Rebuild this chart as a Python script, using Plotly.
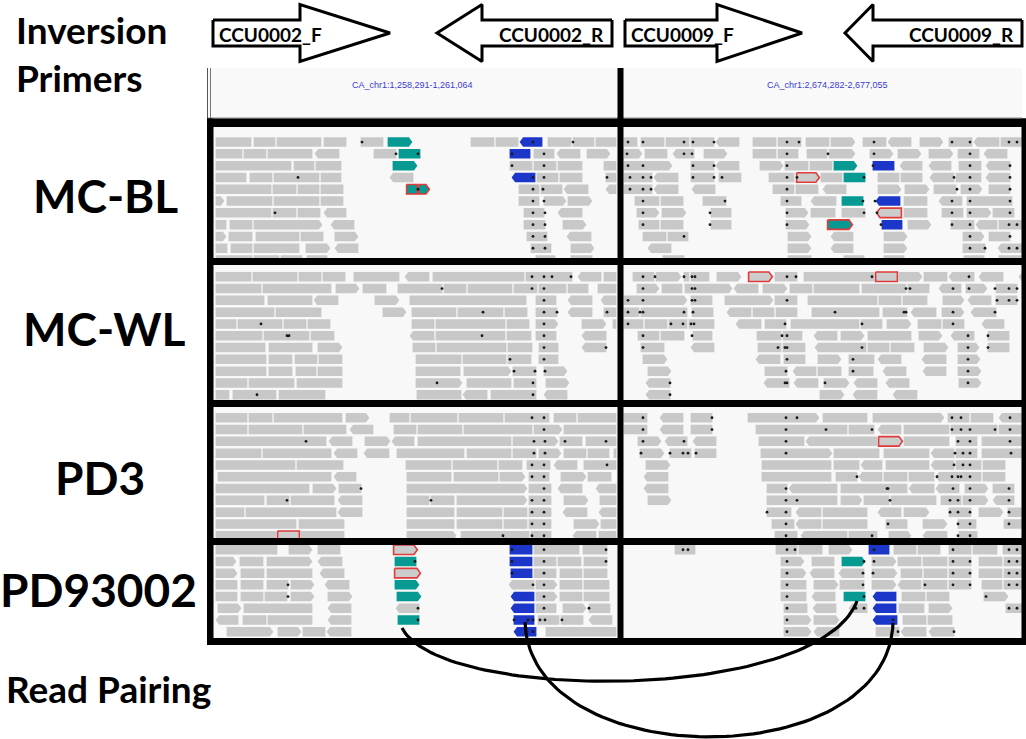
import plotly.graph_objects as go
import numpy as np

W, H = 1026, 739

# ---------------- data ----------------
panel_names = ["MC-BL", "MC-WL", "PD3", "PD93002"]
panel_label_x = [105, 104, 100, 98]
panel_label_y = [195, 328, 477, 589]
row_top = [137.3, 272.0, 413.0, 545.0]
row_step = [11.8, 11.8, 11.8, 11.7]

regions = ["CA_chr1:1,258,291-1,261,064", "CA_chr1:2,674,282-2,677,055"]
region_x = [412, 827]

primer_names = ["CCU0002_F", "CCU0002_R", "CCU0009_F", "CCU0009_R"]
primer_tail = [213, 612, 625, 1022]
primer_base = [300, 482, 717, 873]
primer_tip = [390, 437, 802, 845]

# reads: (start, end, strand, kind)  kind: g=grey, T=teal, B=blue, R=red-outlined grey, TR=red-outlined teal
mcbl_left = [
    [(215,252,0),(253,276,0),(276,322,0),(323,347,0),(360,384,0),(387,413,1,'T'),(470,495,0),(495,519,0),(519,543,-1,'B'),(547,572,0),(572,595,0),(595,617,0)],
    [(215,243,0),(243,267,0),(267,313,0),(314,340,-1),(373,397,0),(398,421,0,'T'),(509,531,0,'B'),(533,555,0),(556,581,-1),(586,611,1)],
    [(215,292,0),(293,315,0),(315,342,0),(392,418,1,'T'),(509,533,0),(533,557,0),(557,583,0),(603,617,0)],
    [(215,247,0),(249,273,0),(273,320,0),(320,342,0),(389,414,-1),(511,536,-1,'B'),(536,559,0),(559,583,0),(605,617,0)],
    [(215,272,0),(272,297,0),(297,320,0),(320,344,0),(406,418,0,'TR'),(418,430,1,'TR'),(518,540,0),(540,563,0),(563,589,-1),(605,617,-1)],
    [(215,225,1),(226,273,0),(273,320,0),(320,344,0),(518,540,0),(543,567,1),(567,593,1)],
    [(215,272,0),(272,297,0),(297,321,0),(323,347,-1),(523,545,0),(557,583,-1)],
    [(215,227,0),(229,253,0),(253,323,1),(330,355,-1),(523,546,0),(562,587,1)],
    [(215,227,1),(228,253,0),(255,300,0),(300,324,0),(334,359,1),(526,548,0),(566,592,-1)],
    [(215,228,0),(230,253,0),(253,300,0),(305,331,1),(334,359,-1),(530,552,0),(570,595,1)],
    [(215,253,0),(253,280,0),(280,303,0),(306,328,0),(535,556,0),(570,593,0)],
]
mcbl_right = [
    [(623,638,0),(640,665,0),(665,690,0),(690,715,0),(715,740,-1),(752,777,0),(777,802,0),(805,830,0),(830,856,1),(862,887,0),(887,912,-1),(919,944,1),(948,973,0),(973,1000,-1),(1000,1023,0)],
    [(623,643,1),(644,668,0),(672,695,-1),(703,728,1),(752,777,0),(777,799,0),(806,828,0),(828,856,1),(869,894,1),(897,922,1),(928,954,1),(957,980,0),(983,1008,-1)],
    [(623,673,1),(690,715,0),(715,740,-1),(759,784,1),(784,809,0),(809,833,0),(833,858,1,'T'),(872,895,0,'B'),(899,923,-1),(928,952,-1),(958,982,0),(985,1011,-1)],
    [(623,653,0),(653,679,-1),(690,715,0),(718,742,0),(768,795,0),(796,820,1,'R'),(820,843,0),(843,866,0,'T'),(877,900,0),(900,923,0),(929,955,-1),(955,982,0),(985,1011,-1)],
    [(623,653,0),(653,679,-1),(691,716,-1),(772,795,0),(795,819,0),(822,847,-1),(877,902,1),(904,930,1),(933,957,0),(960,983,1),(988,1011,0)],
    [(634,660,0),(660,684,0),(702,727,0),(780,802,0),(810,837,-1),(841,864,0,'T'),(875,901,-1,'B'),(903,928,0),(938,963,-1),(966,1013,0)],
    [(636,660,1),(661,687,1),(710,732,0),(785,809,1),(810,836,0),(841,866,0),(876,902,-1,'R'),(903,928,0),(941,964,0),(966,992,1),(992,1015,0)],
    [(638,660,0),(660,684,0),(710,732,0),(785,810,1),(827,853,1,'TR'),(881,903,0,'B'),(907,932,1),(950,975,0),(975,998,-1),(998,1023,0)],
    [(642,667,0),(667,689,0),(787,812,1),(830,854,-1),(883,908,1),(962,985,1),(988,1011,0)],
    [(647,672,-1),(787,812,1),(830,854,-1),(883,908,1),(962,986,0),(997,1023,-1)],
    [(662,685,0),(787,812,0),(843,865,0),(883,905,0),(963,985,0),(998,1022,0)],
]
mcwl_left = [
    [(215,252,0),(252,298,0),(298,322,0),(322,346,0),(353,400,0),(404,430,-1),(432,525,0),(525,573,0),(577,602,-1),(603,617,0)],
    [(215,262,0),(262,332,0),(335,360,1),(362,387,0),(397,443,0),(443,467,0),(467,513,0),(513,538,0),(538,567,0),(567,589,0),(597,617,0)],
    [(215,265,0),(267,313,0),(313,339,-1),(374,400,1),(409,527,0),(535,557,0),(567,593,-1),(600,617,-1)],
    [(215,275,0),(275,322,0),(382,407,1),(411,457,0),(457,504,0),(504,528,0),(535,558,0),(567,593,-1),(603,617,0)],
    [(215,237,0),(237,283,0),(283,307,0),(307,331,0),(411,435,0),(435,506,0),(506,530,0),(535,559,1),(581,607,1),(612,617,0)],
    [(215,263,0),(263,310,0),(310,335,0),(409,435,-1),(435,506,0),(506,532,0),(535,557,0),(581,607,-1)],
    [(215,266,0),(268,313,0),(317,343,1),(412,436,0),(436,507,0),(507,533,0),(538,559,0),(581,607,-1)],
    [(215,267,0),(268,293,0),(294,318,0),(318,343,0),(415,462,0),(462,507,0),(507,532,0),(538,559,0)],
    [(215,267,0),(268,293,0),(295,317,0),(317,343,0),(415,461,0),(463,512,1),(512,537,0),(543,568,1)],
    [(215,248,0),(248,295,0),(296,343,0),(415,463,1),(466,512,0),(513,537,0),(545,570,1)],
    [(215,230,0),(232,277,0),(278,326,0),(416,462,0),(462,488,-1),(490,537,0),(543,568,-1)],
]
mcwl_right = [
    [(632,655,0),(655,682,1),(683,690,0),(690,710,0),(716,742,1),(748,773,1,'R'),(774,798,0),(803,875,0),(875,898,0,'R'),(898,923,1),(923,948,0),(948,975,-1),(978,1004,-1),(1018,1025,-1)],
    [(636,660,1),(661,683,0),(684,733,1),(733,759,-1),(762,788,1),(789,813,0),(813,860,0),(861,907,0),(907,930,0),(938,962,-1),(965,988,1),(995,1018,0)],
    [(623,688,1),(690,713,0),(724,774,1),(774,798,0),(807,878,0),(878,902,0),(902,928,0),(942,965,1),(967,992,-1),(995,1018,0)],
    [(623,640,0),(640,688,0),(691,714,0),(726,752,-1),(752,775,0),(775,798,0),(811,880,0),(882,908,0),(910,937,-1),(941,965,1),(970,997,-1)],
    [(623,644,0),(644,668,0),(668,688,0),(688,715,0),(735,762,-1),(764,787,0),(790,860,0),(860,883,0),(886,912,1),(917,942,0),(942,965,0),(981,1005,-1)],
    [(637,660,0),(660,685,0),(692,713,0),(756,782,0),(782,803,0),(813,838,-1),(840,865,1),(867,912,0),(918,943,1),(950,975,-1),(987,1010,0)],
    [(640,665,0),(690,715,-1),(757,782,0),(782,806,0),(814,867,-1),(867,890,0),(890,915,0),(923,949,1),(957,980,1),(987,1010,0)],
    [(642,668,1),(755,781,-1),(783,806,0),(817,842,1),(848,875,0),(877,902,-1),(921,947,-1),(957,981,1)],
    [(647,672,1),(764,788,0),(792,817,-1),(817,842,0),(848,874,0),(882,907,-1),(922,947,-1),(957,982,1)],
    [(645,671,-1),(763,790,-1),(793,819,-1),(823,850,1),(853,878,-1),(885,910,-1),(958,982,1)],
    [(645,671,-1),(819,845,1),(852,878,-1),(892,918,-1)],
]
pd3_left = [
    [(215,248,0),(248,273,0),(273,343,0),(345,370,1),(389,410,0),(410,458,0),(458,504,0),(504,550,0),(553,577,0),(577,617,0)],
    [(215,248,0),(248,303,0),(303,347,0),(349,374,-1),(393,417,0),(417,463,0),(463,533,0),(533,563,1),(563,617,0)],
    [(215,327,0),(328,353,-1),(364,391,1),(391,415,-1),(417,512,0),(512,559,1),(559,583,0),(585,617,0)],
    [(215,262,0),(262,332,0),(333,358,-1),(363,390,-1),(396,465,0),(466,512,0),(512,537,0),(538,562,1),(563,587,0),(587,610,0),(613,617,0)],
    [(215,296,0),(296,344,0),(405,452,0),(452,498,0),(498,523,0),(526,551,0),(553,578,-1),(583,617,0)],
    [(217,332,0),(333,357,-1),(406,452,0),(453,499,0),(499,526,1),(528,550,0),(560,587,1),(587,612,0)],
    [(215,310,0),(312,337,1),(338,362,0),(406,528,1),(528,552,0),(557,583,-1),(595,617,-1)],
    [(215,265,0),(266,290,0),(290,335,0),(337,363,-1),(406,430,0),(430,455,0),(456,528,1),(528,552,0),(563,589,1),(599,617,0)],
    [(215,245,0),(245,337,0),(337,363,-1),(406,455,0),(456,503,0),(503,528,0),(528,552,0),(562,588,-1),(598,617,-1)],
    [(215,297,0),(298,345,0),(406,455,0),(456,503,0),(503,528,0),(528,552,0),(573,600,1),(600,617,0)],
    [(215,277,0),(277,300,0,'R'),(300,345,0),(406,457,1),(460,530,0),(530,552,0),(572,597,-1),(598,617,0)],
]
pd3_right = [
    [(623,648,0),(659,684,-1),(690,713,0),(747,820,1),(822,868,0),(872,945,1),(947,970,0),(970,994,0),(998,1023,-1)],
    [(623,648,0),(659,684,-1),(690,713,0),(755,848,0),(848,875,0),(877,902,-1),(903,950,0),(950,998,0),(998,1023,0)],
    [(637,662,1),(664,688,-1),(692,717,-1),(758,805,0),(805,878,-1),(878,903,1,'R'),(903,950,0),(955,978,0),(981,1023,0)],
    [(639,665,1),(669,692,0),(694,717,0),(760,833,1),(833,880,0),(883,930,0),(930,955,-1),(955,978,0),(981,1023,0)],
    [(645,671,1),(761,832,0),(833,860,0),(860,883,-1),(885,930,0),(930,955,-1),(955,982,0),(982,1006,0)],
    [(643,669,-1),(761,832,0),(835,858,0),(858,883,-1),(883,908,0),(908,935,0),(935,982,-1),(982,1006,0)],
    [(643,669,-1),(766,788,0),(788,838,-1),(840,908,0),(908,935,-1),(935,960,-1),(964,989,1),(992,1015,0)],
    [(647,672,1),(766,838,0),(840,863,1),(863,890,0),(890,937,0),(940,962,0),(962,989,1),(992,1015,-1)],
    [(766,792,0),(795,822,-1),(822,868,0),(877,902,-1),(903,930,1),(948,972,0),(978,1004,1),(1007,1023,0)],
    [(771,795,0),(795,822,-1),(822,868,0),(885,908,0),(922,948,1),(957,977,0),(1003,1023,0)],
    [(774,798,0),(800,848,-1),(848,878,0),(888,912,1),(922,948,-1),(958,978,0)],
]
pd93_left = [
    [(215,278,0),(288,313,1),(317,341,0),(393,418,1,'R'),(509,533,0,'B'),(533,580,0),(582,608,0)],
    [(215,237,1),(239,264,0),(266,313,1),(317,343,-1),(394,417,0,'T'),(509,533,0,'B'),(533,557,0),(557,582,0),(583,608,0)],
    [(215,238,1),(240,265,0),(266,313,0),(319,345,-1),(394,421,1,'R'),(510,533,0,'B'),(533,557,0),(559,583,0),(583,608,0)],
    [(215,238,0),(240,264,0),(266,289,0),(290,315,1),(324,350,-1),(394,420,1,'T'),(508,535,-1),(535,558,1),(559,583,0),(583,610,0)],
    [(215,238,0),(240,264,0),(264,288,0),(290,315,1),(327,353,1),(396,422,1,'T'),(510,535,-1,'B'),(535,558,1),(559,583,0),(583,610,0)],
    [(217,242,1),(243,313,0),(327,352,-1),(395,420,-1),(510,535,-1,'B'),(535,557,0),(562,587,1),(588,611,0)],
    [(215,239,-1),(242,267,0),(267,313,0),(327,352,-1),(397,420,0,'T'),(513,535,0,'B'),(537,560,0),(560,584,0),(588,613,-1)],
    [(226,274,1),(277,302,1),(302,326,0),(326,352,-1),(513,537,-1,'B'),(545,617,0)],
]
pd93_right = [
    [(674,696,0),(775,798,0),(798,823,0),(828,853,1),(868,890,0,'B'),(893,917,0),(917,941,0),(948,972,0),(972,998,0),(1002,1023,0)],
    [(780,805,1),(811,835,0),(841,866,1,'T'),(871,897,1),(897,922,0),(922,948,0),(948,972,0),(978,1003,0),(1003,1023,0)],
    [(780,807,1),(809,835,-1),(838,865,-1),(871,898,1),(900,923,0),(923,948,0),(948,972,0),(978,1003,0),(1003,1023,0)],
    [(780,807,0),(813,839,1),(839,865,0),(871,897,1),(897,922,-1),(922,948,0),(948,972,0),(981,1003,0),(1003,1023,0)],
    [(780,807,0),(811,836,-1),(843,866,0,'T'),(872,897,-1,'B'),(901,926,0),(926,950,0),(983,1009,1)],
    [(783,808,0),(812,837,-1),(848,868,-1),(872,897,-1,'B'),(898,925,0),(928,953,1),(1005,1023,0)],
    [(783,812,1),(813,840,1),(872,898,-1,'B'),(902,927,0),(927,953,0)],
    [(783,812,1),(813,840,-1),(875,900,0),(900,927,-1),(928,955,-1)],
]
panel_reads = [mcbl_left, mcwl_left, pd3_left, pd93_left]
panel_reads_right = [mcbl_right, mcwl_right, pd3_right, pd93_right]

# mismatch dots: per panel, per row, x positions
dots = [
    [[362,533,573,628,643,684,693,714,787,799,874,952,970,1009,1017],
     [396,418,512,544,627,684,692,787,828,874,970],
     [512,544,628,643,693,714,787,873,970,1010],
     [298,533,544,607,630,643,651,693,714,722,787,797,864,954,970,1010],
     [418,533,543,630,643,651,787,957,970,1010],
     [533,544,643,725,787,863,875,952,970,1010],
     [275,533,545,643,710,787,864,877,952,970,1010],
     [533,545,643,710,787,881,952,970,1009,1017],
     [533,545,684,970,1010],
     [533,545,970,985,1009,1017],
     [537,548]],
    [[532,544,552,571,643,655,684,692,695,787,796,872,969],
     [442,532,544,643,692,695,906,910,953,969,995,1009,1017],
     [544,628,643,692,695,787,997,1009,1017],
     [483,544,557,607,628,640,643,684,693,835,904,906,953,995],
     [261,544,628,671,683,691,694,785,862,953],
     [287,289,482,544,643,692,782,787,968,988],
     [544,606,643,778,785,787,862,968,988],
     [510,544,787,853,968],
     [514,535,545,786,853,968],
     [437,533,670,785,787,825,968],
     [257,533,670]],
    [[532,544,643,712,786,797,952,961,1010],
     [544,643,712,786,826,872,952,961,970,995,1010],
     [306,534,545,565,606,643,684,786,958,970,1010],
     [534,545,641,670,683,688,696,786,955,963,970,1011],
     [532,544,607,954,963,970],
     [532,544,857,937,952,958,961,970],
     [361,544,786,887,888,953,970,1009],
     [287,431,532,544,786,797,890,950,958,970,1009],
     [532,544,767,786,950,958,970,1009],
     [532,544,786,888,958,970,1009],
     [503,532,544,786,872,958,970]],
    [[512,544,606,683,688,787,795,874,953,1009,1017],
     [415,512,544,606,787,864,874,953,970,1009,1017],
     [512,544,787,863,873,953,970,1009,1017],
     [288,533,544,787,863,925,953,970,1009,1017],
     [288,544,787,864,986],
     [418,544,589,787,856,864,1009,1017],
     [418,514,528,533,540,545,562,787,893],
     [533,787,898,954]],
]

# read-pairing arcs: start/end points and control depth
pair_x0 = [402, 525]
pair_y0 = [628, 622]
pair_x1 = [857, 893]
pair_y1 = [601, 623]
pair_ctrl_dx = [38, 5]
pair_ctrl_y = [703, 775]

# ---------------- build ----------------
READ_H = 9.5
ARROW = 3.5
colors = {'g': '#c8c8c8', 'T': '#069a92', 'B': '#1b36c8', 'R': '#cccccc', 'TR': '#069a92'}

polys = {k: ([], []) for k in colors}

def add_read(x0, x1, d, k, yt):
    yb = yt + READ_H
    ym = (yt + yb) / 2
    x0 += 0.6
    x1 -= 0.6
    if d > 0:
        xs = [x0, x1 - ARROW, x1, x1 - ARROW, x0, x0]
        ys = [yt, yt, ym, yb, yb, yt]
    elif d < 0:
        xs = [x0 + ARROW, x1, x1, x0 + ARROW, x0, x0 + ARROW]
        ys = [yt, yt, yb, yb, ym, yt]
    else:
        xs = [x0, x1, x1, x0, x0]
        ys = [yt, yt, yb, yb, yt]
    px, py = polys[k]
    px.extend(xs + [None])
    py.extend(ys + [None])

for p in range(4):
    for side in (panel_reads[p], panel_reads_right[p]):
        for r, row in enumerate(side):
            yt = row_top[p] + r * row_step[p]
            for rd in row:
                k = rd[3] if len(rd) > 3 else 'g'
                add_read(rd[0], rd[1], rd[2], k, yt)

fig = go.Figure()

# panel backgrounds
panel_y0 = [127, 265, 407, 545]
panel_y1 = [258, 400, 538, 638]
for p in range(4):
    fig.add_shape(type="rect", x0=213, x1=1022, y0=panel_y0[p], y1=panel_y1[p],
                  fillcolor="#f8f8f8", line_width=0, layer="below")
fig.add_shape(type="rect", x0=208, x1=1022, y0=68, y1=118.5,
              fillcolor="#f9f9f9", line_width=0, layer="below")
fig.add_shape(type="line", x0=207.5, x1=207.5, y0=68, y1=119, line=dict(color="#555", width=1))
fig.add_shape(type="line", x0=210.5, x1=210.5, y0=68, y1=119, line=dict(color="#777", width=1))
fig.add_shape(type="line", x0=208, x1=1022, y0=118, y1=118, line=dict(color="#888", width=1))

for k in ['g', 'R', 'T', 'B', 'TR']:
    px, py = polys[k]
    if not px:
        continue
    red = k in ('R', 'TR')
    fig.add_trace(go.Scatter(
        x=px, y=py, mode="lines", fill="toself", fillcolor=colors[k],
        line=dict(color="#e03a3a" if red else colors[k], width=1.6 if red else 0),
        hoverinfo="skip", showlegend=False))

# dots
dx, dy = [], []
for p in range(4):
    for r, row in enumerate(dots[p]):
        yc = row_top[p] + r * row_step[p] + READ_H / 2
        for x in row:
            dx.append(x)
            dy.append(yc)
fig.add_trace(go.Scatter(x=dx, y=dy, mode="markers",
                         marker=dict(size=2.8, color="#1a1a1a", line_width=0),
                         hoverinfo="skip", showlegend=False))

# frame (black bands)
band_y = [(118.5, 127), (258, 265), (400, 407), (538, 545), (638, 645)]
for y0, y1 in band_y:
    fig.add_shape(type="rect", x0=207, x1=1026, y0=y0, y1=y1, fillcolor="black", line_width=0)
fig.add_shape(type="rect", x0=207, x1=213.5, y0=118.5, y1=645, fillcolor="black", line_width=0)
fig.add_shape(type="rect", x0=1021.5, x1=1026, y0=118.5, y1=645, fillcolor="black", line_width=0)
fig.add_shape(type="rect", x0=617.5, x1=623.5, y0=68, y1=645, fillcolor="black", line_width=0)

# arcs
t = np.linspace(0, 1, 80)[:, None]
for i in range(len(pair_x0)):
    P0 = np.array([pair_x0[i], pair_y0[i]])
    P3 = np.array([pair_x1[i], pair_y1[i]])
    P1 = np.array([pair_x0[i] + pair_ctrl_dx[i], pair_ctrl_y[i]])
    P2 = np.array([pair_x1[i] - pair_ctrl_dx[i], pair_ctrl_y[i]])
    B = (1 - t) ** 3 * P0 + 3 * (1 - t) ** 2 * t * P1 + 3 * (1 - t) * t ** 2 * P2 + t ** 3 * P3
    fig.add_trace(go.Scatter(x=B[:, 0], y=B[:, 1], mode="lines",
                             line=dict(color="black", width=3.2),
                             hoverinfo="skip", showlegend=False))

# primer arrows
yc, rh, hh = 33, 13, 28.5
for i, name in enumerate(primer_names):
    a, b, c = primer_tail[i], primer_base[i], primer_tip[i]
    xs = [a, b, b, c, b, b, a, a]
    ys = [yc - rh, yc - rh, yc - hh, yc, yc + hh, yc + rh, yc + rh, yc - rh]
    fig.add_trace(go.Scatter(x=xs, y=ys, mode="lines", fill="toself", fillcolor="white",
                             line=dict(color="black", width=3), hoverinfo="skip",
                             showlegend=False))
    forward = c > a
    fig.add_annotation(x=a + 4 if forward else a - 6, y=yc + 1, text=name, showarrow=False,
                       xanchor="left" if forward else "right", yanchor="middle",
                       font=dict(family="Lato", size=19, color="black", weight=700))

# region labels
for i, r in enumerate(regions):
    fig.add_annotation(x=region_x[i], y=85, text=r, showarrow=False, xanchor="center",
                       yanchor="middle", font=dict(family="Liberation Sans Narrow, Liberation Sans", size=9, color="#3a3ad0"))

# left labels
for i, nm in enumerate(panel_names):
    fig.add_annotation(x=panel_label_x[i], y=panel_label_y[i], text=nm, showarrow=False,
                       xanchor="center", yanchor="middle",
                       font=dict(family="Lato", size=46, color="black", weight=700))
fig.add_annotation(x=14, y=29, text="Inversion", showarrow=False, xanchor="left", yanchor="middle",
                   font=dict(family="Lato", size=37, color="black", weight=700))
fig.add_annotation(x=14, y=77, text="Primers", showarrow=False, xanchor="left", yanchor="middle",
                   font=dict(family="Lato", size=37, color="black", weight=700))
fig.add_annotation(x=4, y=688, text="Read Pairing", showarrow=False, xanchor="left", yanchor="middle",
                   font=dict(family="Lato", size=37, color="black", weight=700))

fig.update_layout(
    width=W, height=H, margin=dict(l=0, r=0, t=0, b=0),
    paper_bgcolor="white", plot_bgcolor="white",
    xaxis=dict(range=[0, W], visible=False, fixedrange=True),
    yaxis=dict(range=[H, 0], visible=False, fixedrange=True),
)
fig.write_html("out.html", config={"displayModeBar": False},
               post_script="document.body.style.margin='0px';")
